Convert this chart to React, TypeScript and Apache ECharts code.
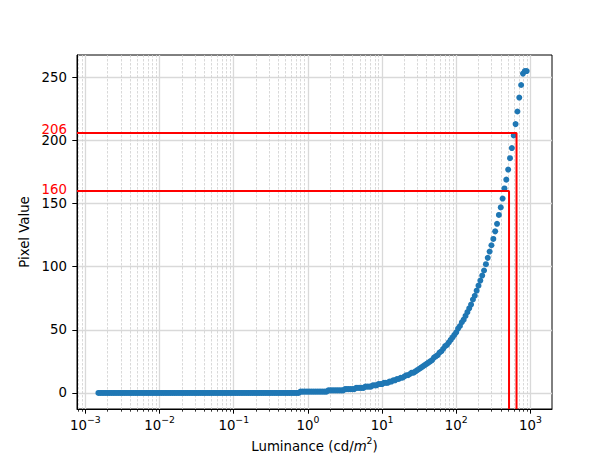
import React, { useEffect, useRef } from 'react';
import * as echarts from 'echarts';

// Luminance samples (cd/m^2), read along the log axis
const luminance = [
  1.496e-3, 1.585e-3, 1.679e-3, 1.778e-3, 1.884e-3, 1.995e-3, 2.113e-3, 2.239e-3, 2.371e-3, 2.512e-3,
  2.661e-3, 2.818e-3, 2.985e-3, 3.162e-3, 3.35e-3, 3.548e-3, 3.758e-3, 3.981e-3, 4.217e-3, 4.467e-3,
  4.732e-3, 5.012e-3, 5.309e-3, 5.623e-3, 5.957e-3, 6.31e-3, 6.683e-3, 7.079e-3, 7.499e-3, 7.943e-3,
  8.414e-3, 8.913e-3, 9.441e-3,
  1.0e-2, 1.059e-2, 1.122e-2, 1.189e-2, 1.259e-2, 1.334e-2, 1.413e-2, 1.496e-2, 1.585e-2, 1.679e-2,
  1.778e-2, 1.884e-2, 1.995e-2, 2.113e-2, 2.239e-2, 2.371e-2, 2.512e-2, 2.661e-2, 2.818e-2, 2.985e-2,
  3.162e-2, 3.35e-2, 3.548e-2, 3.758e-2, 3.981e-2, 4.217e-2, 4.467e-2, 4.732e-2, 5.012e-2, 5.309e-2,
  5.623e-2, 5.957e-2, 6.31e-2, 6.683e-2, 7.079e-2, 7.499e-2, 7.943e-2, 8.414e-2, 8.913e-2, 9.441e-2,
  0.1, 0.1059, 0.1122, 0.1189, 0.1259, 0.1334, 0.1413, 0.1496, 0.1585, 0.1679,
  0.1778, 0.1884, 0.1995, 0.2113, 0.2239, 0.2371, 0.2512, 0.2661, 0.2818, 0.2985,
  0.3162, 0.335, 0.3548, 0.3758, 0.3981, 0.4217, 0.4467, 0.4732, 0.5012, 0.5309,
  0.5623, 0.5957, 0.631, 0.6683, 0.7079, 0.7499, 0.7943, 0.8414, 0.8913, 0.9441,
  1.0, 1.059, 1.122, 1.189, 1.259, 1.334, 1.413, 1.496, 1.585, 1.679,
  1.778, 1.884, 1.995, 2.113, 2.239, 2.371, 2.512, 2.661, 2.818, 2.985,
  3.162, 3.35, 3.548, 3.758, 3.981, 4.217, 4.467, 4.732, 5.012, 5.309,
  5.623, 5.957, 6.31, 6.683, 7.079, 7.499, 7.943, 8.414, 8.913, 9.441,
  10.0, 10.59, 11.22, 11.89, 12.59, 13.34, 14.13, 14.96, 15.85, 16.79,
  17.78, 18.84, 19.95, 21.13, 22.39, 23.71, 25.12, 26.61, 28.18, 29.85,
  31.62, 33.5, 35.48, 37.58, 39.81, 42.17, 44.67, 47.32, 50.12, 53.09,
  56.23, 59.57, 63.1, 66.83, 70.79, 74.99, 79.43, 84.14, 89.13, 94.41,
  100.0, 105.9, 112.2, 118.9, 125.9, 133.4, 141.3, 149.6, 158.5, 167.9,
  177.8, 188.4, 199.5, 211.3, 223.9, 237.1, 251.2, 266.1, 281.8, 298.5,
  316.2, 335.0, 354.8, 375.8, 398.1, 421.7, 446.7, 473.2, 501.2, 530.9,
  562.3, 595.7, 631.0, 668.3, 707.9, 749.9, 794.3, 841.4, 891.3, 944.1,
  1000.0,
];

// Pixel values read for each luminance sample
const pixelValue = [
  0, 0, 0, 0, 0, 0, 0, 0, 0, 0, 0, 0, 0, 0, 0, 0, 0, 0, 0, 0, 0, 0, 0, 0, 0, 0, 0, 0, 0, 0, 0, 0, 0,
  0, 0, 0, 0, 0, 0, 0, 0, 0, 0, 0, 0, 0, 0, 0, 0, 0, 0, 0, 0, 0, 0, 0, 0, 0, 0, 0, 0, 0, 0, 0, 0, 0, 0, 0, 0, 0, 0, 0, 0,
  0, 0, 0, 0, 0, 0, 0, 0, 0, 0, 0, 0, 0, 0, 0, 0, 0, 0, 0, 0, 0, 0, 0, 0, 0, 0, 0, 0, 0, 0, 0, 0, 0, 0, 0, 0, 1, 1,
  1, 1, 1, 1, 1, 1, 1, 1, 1, 1, 1, 1, 1, 2, 2, 2, 2, 2, 2, 2, 2, 2, 3, 3, 3, 3, 3, 3, 4, 4, 4, 4, 4, 5, 5, 5, 5, 6, 6, 6,
  7, 7, 7, 8, 8, 8, 9, 9, 10, 10, 11, 11, 12, 12, 13, 14, 14, 15, 16, 16, 17, 18, 19, 20, 21, 22, 23, 24, 25, 26,
  28, 29, 30, 32, 33, 35, 37, 38, 40, 42,
  44, 46, 48, 51, 53, 56, 58, 61, 64, 67, 70, 74, 77, 81, 85, 89, 93, 97, 102, 107,
  112, 117, 122, 128, 134, 141, 147, 154, 162, 169, 177, 186, 194, 204, 213, 223, 234, 244, 253, 255,
  255,
];

const majorXTicks = [0.001, 0.01, 0.1, 1, 10, 100, 1000];
const minorXTicks = [
  0.0008, 0.0009, 0.002, 0.003, 0.004, 0.005, 0.006, 0.007, 0.008, 0.009,
  0.02, 0.03, 0.04, 0.05, 0.06, 0.07, 0.08, 0.09,
  0.2, 0.3, 0.4, 0.5, 0.6, 0.7, 0.8, 0.9,
  2, 3, 4, 5, 6, 7, 8, 9,
  20, 30, 40, 50, 60, 70, 80, 90,
  200, 300, 400, 500, 600, 700, 800, 900,
];
const yTicks = [0, 50, 100, 150, 200, 250];
const markerPixel = [206, 160];
const markerLuminance = [650, 515];
const xRange = [7.7e-4, 1955];
const yRange = [-12.75, 267.75];

const FONT = 'DejaVu Sans';
const FS = 13.3;

export default function App() {
  const ref = useRef<HTMLDivElement>(null);

  useEffect(() => {
    if (!ref.current) return;
    const chart = echarts.init(ref.current, null, { renderer: 'svg' });

    const points = luminance.map((l, i) => [l, pixelValue[i]]);
    const markerSeries = markerPixel.map((p, i) => ({
      type: 'line',
      data: [
        [xRange[0], p],
        [markerLuminance[i], p],
        [markerLuminance[i], yRange[0]],
      ],
      symbol: 'none',
      lineStyle: { color: '#ff0000', width: 2 },
      z: 5,
      silent: true,
    }));

    const expLabel = (v: number) => {
      const e = Math.round(Math.log10(v));
      return `{b|10}{s|${e < 0 ? '\u2212' : ''}${Math.abs(e)}}`;
    };

    chart.setOption({
      animation: false,
      backgroundColor: '#ffffff',
      textStyle: { fontFamily: FONT },
      grid: {
        left: 77,
        top: 55,
        width: 475,
        height: 354,
        show: true,
        borderColor: '#000',
        borderWidth: 1,
        backgroundColor: 'transparent',
      },
      xAxis: [
        {
          type: 'log',
          logBase: 10,
          position: 'bottom',
          min: xRange[0],
          max: xRange[1],
          name: '{n|Luminance (cd/}{i|m}{s|2}{n|)}',
          nameLocation: 'middle',
          nameGap: 26,
          nameTextStyle: {
            rich: {
              n: { fontSize: FS, fontFamily: FONT, color: '#000', lineHeight: 20 },
              i: { fontSize: FS, fontFamily: FONT, color: '#000', fontStyle: 'italic', lineHeight: 20 },
              s: { fontSize: 9.3, fontFamily: FONT, color: '#000', verticalAlign: 'top', lineHeight: 11 },
            },
          },
          axisLine: { show: true, onZero: false, lineStyle: { color: '#000', width: 1 } },
          axisTick: {
            show: true,
            length: 4.7,
            lineStyle: { color: '#000', width: 1 },
            customValues: majorXTicks,
          },
          axisLabel: {
            margin: 6,
            customValues: majorXTicks,
            formatter: expLabel,
            rich: {
              b: { fontSize: FS, fontFamily: FONT, color: '#000', lineHeight: 20 },
              s: { fontSize: 9.3, fontFamily: FONT, color: '#000', verticalAlign: 'top', lineHeight: 11 },
            },
          },
          splitLine: { show: true, lineStyle: { color: '#d9d9d9', width: 1.3 } },
          minorTick: { show: false },
        },
        {
          type: 'log',
          logBase: 10,
          position: 'bottom',
          min: xRange[0],
          max: xRange[1],
          axisLine: { show: false, onZero: false },
          axisTick: {
            show: true,
            length: 2.7,
            lineStyle: { color: '#000', width: 0.8 },
            customValues: minorXTicks,
          },
          axisLabel: { show: false },
          splitLine: { show: true, lineStyle: { color: '#cfcfcf', width: 0.8, type: [2.5, 1.5] } },
        },
      ],
      yAxis: {
        type: 'value',
        min: yRange[0],
        max: yRange[1],
        name: 'Pixel Value',
        nameLocation: 'middle',
        nameGap: 39,
        nameTextStyle: { fontSize: FS, fontFamily: FONT, color: '#000' },
        axisLine: { show: true, onZero: false, lineStyle: { color: '#000', width: 1 } },
        axisTick: {
          show: true,
          length: 4.7,
          lineStyle: { color: '#000', width: 1 },
          customValues: yTicks,
        },
        axisLabel: {
          margin: 10,
          customValues: [...yTicks, ...markerPixel],
          fontSize: FS,
          fontFamily: FONT,
          color: '#000',
          formatter: (v: number) => {
            const idx = markerPixel.indexOf(v);
            if (idx === 0) return `{r0|${v}}`;
            if (idx === 1) return `{r1|${v}}`;
            return `${v}`;
          },
          rich: {
            r0: { fontSize: FS, fontFamily: FONT, color: '#ff0000', padding: [0, 0, 6, 0] },
            r1: { fontSize: FS, fontFamily: FONT, color: '#ff0000', padding: [0, 0, 3, 0] },
          },
        },
        splitLine: { show: true, lineStyle: { color: '#d9d9d9', width: 1.3 } },
      },
      series: [
        {
          type: 'scatter',
          data: points,
          xAxisIndex: 0,
          symbolSize: 6,
          itemStyle: { color: '#1f77b4', opacity: 1 },
          z: 3,
          silent: true,
        },
        ...markerSeries,
      ],
    });

    return () => chart.dispose();
  }, []);

  return (
    <div
      ref={ref}
      style={{ position: 'fixed', left: 0, top: 0, width: 613, height: 461, background: '#fff' }}
    />
  );
}
